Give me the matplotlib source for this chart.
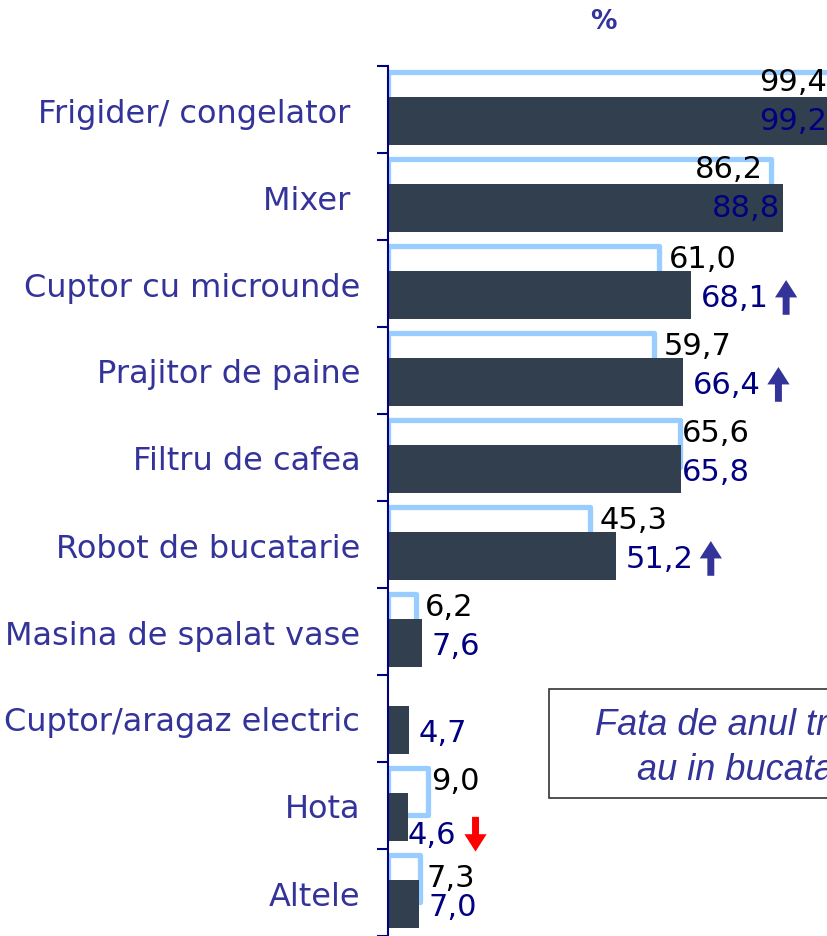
import numpy as np
import matplotlib.pyplot as plt
from matplotlib.patches import Rectangle
from matplotlib.text import OffsetFrom

# data
categories = ["Frigider/ congelator ", "Mixer ", "Cuptor cu microunde",
              "Prajitor de paine", "Filtru de cafea", "Robot de bucatarie",
              "Masina de spalat vase", "Cuptor/aragaz electric", "Hota", "Altele"]
prev_year = [99.4, 86.2, 61.0, 59.7, 65.6, 45.3, 6.2, np.nan, 9.0, 7.3]
this_year = [99.2, 88.8, 68.1, 66.4, 65.8, 51.2, 7.6, 4.7, 4.6, 7.0]
trend = ["", "", "up", "up", "", "up", "", "", "down", ""]

def fmt(v):
    return f"{v:.1f}".replace(".", ",")

# colors
DARK = "#323F4F"
LIGHT = "#99CCFF"
NAVY = "#000080"
LABEL = "#333399"

fig = plt.figure(figsize=(8.28, 9.37), dpi=100)
W, H = 828, 937
ax = fig.add_axes([388 / W, 0, 1 - 388 / W, (H - 67) / H])

n = len(categories)
y = np.arange(n) + 0.5

ax.barh(y - 0.165, prev_year, height=0.54, fill=False, edgecolor=LIGHT,
        linewidth=3.8, joinstyle="round", zorder=2)
ax.barh(y + 0.13, this_year, height=0.55, color=DARK, zorder=3)

ax.set_xlim(0, 98.9)
ax.set_ylim(n, 0)

# spines / ticks
for s in ["top", "right", "bottom"]:
    ax.spines[s].set_visible(False)
ax.spines["left"].set_color(NAVY)
ax.spines["left"].set_linewidth(1.5)
ax.spines["left"].set_zorder(4)
ax.set_xticks([])
ax.set_yticks(np.arange(n + 1))
ax.set_yticklabels([])
ax.tick_params(axis="y", which="major", length=8, width=1.5, color=NAVY)
ax.set_yticks(y, minor=True)
ax.set_yticklabels(categories, minor=True, fontsize=23, color=LABEL)
ax.tick_params(axis="y", which="minor", length=0, pad=20)

# value labels
fs = 22
gap = 2.2
for i in range(n):
    old, new = prev_year[i], this_year[i]
    # previous year (black)
    if not np.isnan(old):
        ha, xo, yo = "left", old + gap, y[i] - 0.29
        if old > 95:
            ha, xo, yo = "right", 98.7, y[i] - 0.32
        elif categories[i].startswith("Mixer"):
            ha, xo, yo = "right", old - 2.0, y[i] - 0.32
        elif categories[i].startswith("Filtru"):
            xo = old + 0.4
        elif categories[i] == "Hota":
            xo = old + 0.6
        elif categories[i] == "Altele":
            xo, yo = old + 1.3, y[i] - 0.17
        ax.text(xo, yo, fmt(old), ha=ha, va="center", fontsize=fs,
                color="black", zorder=5)
    # this year (navy)
    ha, xn, yn = "left", new + gap, y[i] + 0.16
    if new > 95:
        ha, xn, yn = "right", 98.7, y[i] + 0.13
    elif categories[i].startswith("Mixer"):
        ha, xn, yn = "right", new - 0.6, y[i] + 0.13
    elif categories[i].startswith("Filtru"):
        xn = new + 0.3
    elif categories[i] == "Hota":
        xn, yn = new - 0.2, y[i] + 0.33
    t = ax.text(xn, yn, fmt(new), ha=ha, va="center", fontsize=fs,
                color=NAVY, zorder=5)
    if trend[i]:
        dx = 12.5 if trend[i] == "up" else 14
        sgn = 1 if trend[i] == "up" else -1
        ax.annotate("", xy=(dx, sgn * 12.5), xycoords=OffsetFrom(t, (1, 0.5)),
                    xytext=(dx, -sgn * 12.5),
                    textcoords=OffsetFrom(t, (1, 0.5)),
                    arrowprops=dict(arrowstyle="simple,head_length=1.25,"
                                               "head_width=1.6,tail_width=0.5",
                                    mutation_scale=10, shrinkA=0, shrinkB=0,
                                    color=LABEL if sgn > 0 else "red", lw=0))

# header
fig.text(603 / W, 1 - 22 / H, "%", ha="center", va="center", fontsize=19,
         fontweight="bold", color=LABEL)

# note box (cut at the right edge as in the original)
fig.add_artist(Rectangle((549 / W, 1 - 799 / H), 400 / W, 109 / H,
                         transform=fig.transFigure, facecolor="white",
                         edgecolor="#333333", linewidth=1.2, zorder=10))
fig.text(595 / W, 1 - 735 / H, "Fata de anul trecut,", ha="left",
         va="baseline", fontsize=26, style="italic", color=LABEL,
         family="Liberation Sans", zorder=11)
fig.text(637 / W, 1 - 780 / H, "au in bucatarie", ha="left",
         va="baseline", fontsize=26, style="italic", color=LABEL,
         family="Liberation Sans", zorder=11)

fig.savefig("out.png", dpi=100)
